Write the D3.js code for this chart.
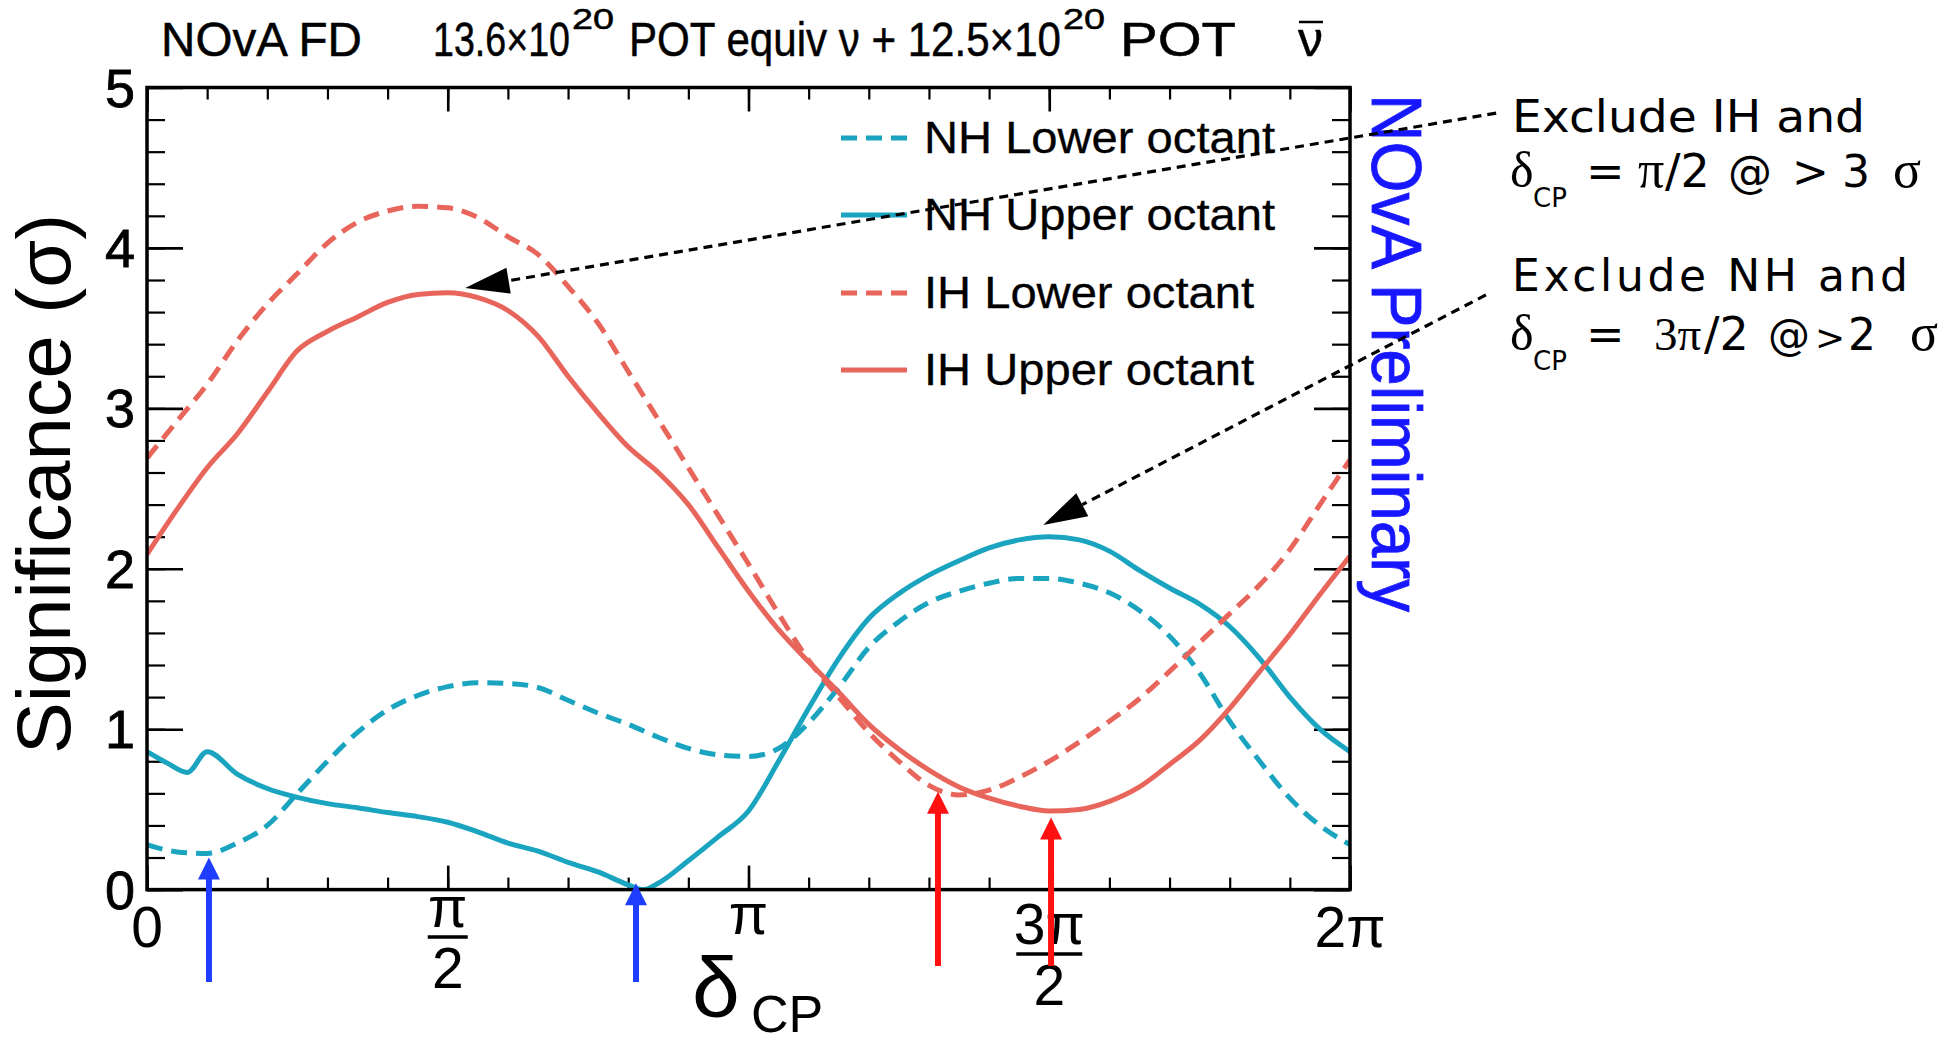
<!DOCTYPE html>
<html>
<head>
<meta charset="utf-8">
<script src="https://cdn.jsdelivr.net/npm/d3@7"></script>
<style>
  body { margin: 0; background: #fff; }
  svg { display: block; font-family: "Liberation Sans", Arial, sans-serif; }
</style>
</head>
<body>
<script>
// delta_CP sample points (units of pi)
const deltaGrid = [0, 0.05, 0.1, 0.15, 0.2, 0.25, 0.3, 0.35, 0.4, 0.45, 0.5, 0.55, 0.6, 0.65, 0.7, 0.75, 0.8, 0.85, 0.9, 0.95,
  1, 1.05, 1.1, 1.15, 1.2, 1.25, 1.3, 1.35, 1.4, 1.45, 1.5, 1.55, 1.6, 1.65, 1.7, 1.75, 1.8, 1.85, 1.9, 1.95, 2];

// significance (sigma) per curve
const nhLowerSig = [0.28, 0.235, 0.225, 0.29, 0.40, 0.60, 0.80, 0.98, 1.12, 1.21, 1.265, 1.29, 1.285, 1.26, 1.18, 1.10, 1.03, 0.95, 0.88, 0.84,
  0.83, 0.88, 1.04, 1.26, 1.51, 1.67, 1.79, 1.86, 1.91, 1.94, 1.94, 1.91, 1.85, 1.74, 1.58, 1.35, 1.05, 0.80, 0.57, 0.40, 0.28];

const nhUpperX = [0, 0.033, 0.067, 0.1, 0.15, 0.2, 0.25, 0.3, 0.35, 0.4, 0.45, 0.5, 0.55, 0.6, 0.65, 0.7, 0.75, 0.8, 0.825,
  0.85, 0.9, 0.95, 1, 1.05, 1.1, 1.15, 1.2, 1.25, 1.3, 1.35, 1.4, 1.45, 1.5, 1.55, 1.6, 1.65, 1.7, 1.75, 1.8, 1.85, 1.9, 1.95, 2];
const nhUpperSig = [0.86, 0.79, 0.73, 0.86, 0.72, 0.63, 0.575, 0.536, 0.51, 0.48, 0.455, 0.42, 0.36, 0.29, 0.24, 0.17, 0.11, 0.03, 0.0,
  0.04, 0.18, 0.33, 0.49, 0.80, 1.13, 1.44, 1.69, 1.845, 1.96, 2.05, 2.13, 2.18, 2.20, 2.18, 2.11, 1.99, 1.88, 1.78, 1.64, 1.44, 1.20, 1.00, 0.86];

const ihLowerSig = [2.69, 2.92, 3.15, 3.42, 3.65, 3.84, 4.03, 4.16, 4.23, 4.26, 4.25, 4.19, 4.07, 3.96, 3.76, 3.53, 3.23, 2.93, 2.63, 2.33,
  2.03, 1.72, 1.43, 1.20, 0.98, 0.80, 0.65, 0.59, 0.62, 0.70, 0.80, 0.92, 1.05, 1.19, 1.36, 1.54, 1.72, 1.90, 2.12, 2.40, 2.68];

const ihUpperSig = [2.09, 2.37, 2.63, 2.84, 3.10, 3.36, 3.48, 3.57, 3.66, 3.71, 3.72, 3.69, 3.61, 3.45, 3.20, 2.97, 2.76, 2.60, 2.40, 2.13,
  1.86, 1.62, 1.42, 1.23, 1.03, 0.875, 0.745, 0.64, 0.57, 0.52, 0.49, 0.50, 0.55, 0.64, 0.78, 0.93, 1.13, 1.36, 1.59, 1.84, 2.08];

const legendNames = ["NH Lower octant", "NH Upper octant", "IH Lower octant", "IH Upper octant"];

// axis ticks
const yTickValues = [0, 1, 2, 3, 4, 5];
const xTickValues = [0, 0.5, 1, 1.5, 2];
const xTickText = ["0", "π/2", "π", "3π/2", "2π"];

// coloured marker arrows: position (pi), tip and tail (sigma)
const blueArrowX = [0.103, 0.813];
const blueArrowTip = [0.20, 0.04];
const redArrowX = [1.315, 1.503];
const redArrowTip = [0.61, 0.45];
const blueArrowTail = -0.576;
const redArrowTail = -0.476;

// dotted callout arrows: [start x, start sigma, tip x, tip sigma]
const callouts = [
  [2.243, 4.84, 0.529, 3.75],
  [2.226, 3.707, 1.490, 2.273]
];

const TEAL = "#1aa4bf";
const SALMON = "#e8655b";

// Layout.
const W = 1959, H = 1045;
const plot = { left: 147, right: 1350, top: 87.5, bottom: 889.6 };

const svg = d3.select("body").append("svg").attr("width", W).attr("height", H);

const x = d3.scaleLinear().domain([0, 2]).range([plot.left, plot.right]);
const y = d3.scaleLinear().domain([0, 5]).range([plot.bottom, plot.top]);

// Ticks on all four sides (ROOT style, pointing inward).
function tickAxis(axis, transform, width) {
  svg.append("g")
    .attr("transform", transform)
    .call(axis.tickFormat(""))
    .call((g) => g.select(".domain").remove())
    .call((g) => g.selectAll("line").attr("stroke", "#000").attr("stroke-width", width));
}
const xMinor = d3.range(0, 2.0001, 0.1);
const yMinor = d3.range(0, 5.0001, 0.2);
tickAxis(d3.axisBottom(x).tickValues(xTickValues).tickSize(-24), `translate(0,${plot.bottom})`, 2.6);
tickAxis(d3.axisBottom(x).tickValues(xMinor).tickSize(-12), `translate(0,${plot.bottom})`, 2.2);
tickAxis(d3.axisTop(x).tickValues(xTickValues).tickSize(-24), `translate(0,${plot.top})`, 2.6);
tickAxis(d3.axisTop(x).tickValues(xMinor).tickSize(-12), `translate(0,${plot.top})`, 2.2);
tickAxis(d3.axisLeft(y).tickValues(yTickValues).tickSize(-36), `translate(${plot.left},0)`, 2.6);
tickAxis(d3.axisLeft(y).tickValues(yMinor).tickSize(-18), `translate(${plot.left},0)`, 2.2);
tickAxis(d3.axisRight(y).tickValues(yTickValues).tickSize(-36), `translate(${plot.right},0)`, 2.6);
tickAxis(d3.axisRight(y).tickValues(yMinor).tickSize(-18), `translate(${plot.right},0)`, 2.2);

// Curves.
svg.append("defs").append("clipPath").attr("id", "plotclip")
  .append("rect")
  .attr("x", plot.left).attr("y", plot.top)
  .attr("width", plot.right - plot.left).attr("height", plot.bottom - plot.top);

const series = [
  { name: legendNames[0], xs: deltaGrid, ys: nhLowerSig, color: TEAL, dash: "16,9" },
  { name: legendNames[1], xs: nhUpperX, ys: nhUpperSig, color: TEAL, dash: null },
  { name: legendNames[2], xs: deltaGrid, ys: ihLowerSig, color: SALMON, dash: "16,9" },
  { name: legendNames[3], xs: deltaGrid, ys: ihUpperSig, color: SALMON, dash: null }
];

const line = d3.line()
  .x((d) => x(d[0]))
  .y((d) => y(d[1]))
  .curve(d3.curveMonotoneX);

svg.append("g").attr("clip-path", "url(#plotclip)")
  .selectAll("path")
  .data(series)
  .enter()
  .append("path")
  .attr("d", (s) => line(s.xs.map((v, i) => [v, s.ys[i]])))
  .attr("fill", "none")
  .attr("stroke", (s) => s.color)
  .attr("stroke-width", 5)
  .attr("stroke-linejoin", "round")
  .attr("stroke-dasharray", (s) => s.dash);

// Frame.
svg.append("rect")
  .attr("x", plot.left).attr("y", plot.top)
  .attr("width", plot.right - plot.left).attr("height", plot.bottom - plot.top)
  .attr("fill", "none").attr("stroke", "#000").attr("stroke-width", 3.5);

// Y tick labels.
svg.append("g").attr("stroke", "#000").attr("stroke-width", 0.8)
  .selectAll("text")
  .data(yTickValues)
  .enter()
  .append("text")
  .attr("x", 135)
  .attr("y", (d) => y(d) + 19)
  .attr("text-anchor", "end")
  .attr("font-size", 54)
  .text((d) => d);

// X tick labels (fractions drawn stacked).
const xl = svg.append("g").attr("font-size", 57).attr("text-anchor", "middle");
xTickValues.forEach((v, i) => {
  const t = xTickText[i];
  const cx = x(v);
  if (t.includes("/")) {
    const [num, den] = t.split("/");
    const low = num.length > 1 ? 17 : 0;
    const barHalf = num.length > 1 ? 33 : 20;
    xl.append("text").attr("x", cx).attr("y", 927 + low).text(num);
    xl.append("line")
      .attr("x1", cx - barHalf).attr("x2", cx + barHalf)
      .attr("y1", 937 + low).attr("y2", 937 + low)
      .attr("stroke", "#000").attr("stroke-width", 3.5);
    xl.append("text").attr("x", cx).attr("y", 988 + low).text(den);
  } else {
    xl.append("text").attr("x", cx).attr("y", t === "π" ? 934 : 947).text(t);
  }
});

// Axis titles.
const xt = svg.append("text").attr("x", 692).attr("y", 1017);
xt.append("tspan").attr("font-size", 86).text("δ");
xt.append("tspan").attr("font-size", 52).attr("x", 751).attr("y", 1032).text("CP");

svg.append("text")
  .attr("transform", "translate(70,484) rotate(-90)")
  .attr("text-anchor", "middle")
  .attr("font-size", 76)
  .attr("textLength", 540)
  .attr("lengthAdjust", "spacingAndGlyphs")
  .text("Significance (σ)");

// Title: one text element, pieces condensed to the original widths.
const titlePieces = [
  { t: "NOvA FD", x: 161, w: 201, y: 56, fs: 48 },
  { t: "13.6×10", x: 433, w: 137, y: 56, fs: 48 },
  { t: "20", x: 572, w: 42, y: 29, fs: 30 },
  { t: "POT equiv ν + 12.5×10", x: 629, w: 432, y: 56, fs: 48 },
  { t: "20", x: 1063, w: 42, y: 29, fs: 30 },
  { t: "POT", x: 1120, w: 116, y: 56, fs: 48 },
  { t: "ν", x: 1298, w: 25, y: 56, fs: 48 }
];
const title = svg.append("text").attr("stroke", "#000").attr("stroke-width", 0.5);
titlePieces.forEach((d) => {
  title.append("tspan")
    .attr("x", d.x).attr("y", d.y)
    .attr("font-size", d.fs)
    .attr("textLength", d.w)
    .attr("lengthAdjust", "spacingAndGlyphs")
    .text(d.t);
});
// bar over the anti-neutrino
svg.append("line")
  .attr("x1", 1299).attr("x2", 1323).attr("y1", 22).attr("y2", 22)
  .attr("stroke", "#000").attr("stroke-width", 2.5);

// NOvA Preliminary.
svg.append("text")
  .attr("transform", "translate(1372,94) rotate(90)")
  .attr("font-size", 70)
  .attr("fill", "#1717ff")
  .attr("stroke", "#1717ff").attr("stroke-width", 0.8)
  .attr("textLength", 518)
  .attr("lengthAdjust", "spacingAndGlyphs")
  .text("NOvA Preliminary");

// Legend.
const legendRowY = [138, 215, 293, 370];
const legendW = [351, 351, 330, 330];
const lg = svg.append("g");
series.forEach((s, i) => {
  lg.append("line")
    .attr("x1", 841).attr("x2", 907)
    .attr("y1", legendRowY[i]).attr("y2", legendRowY[i])
    .attr("stroke", s.color).attr("stroke-width", 5)
    .attr("stroke-dasharray", s.dash);
  lg.append("text")
    .attr("x", 924).attr("y", legendRowY[i] + 15)
    .attr("font-size", 44)
    .attr("stroke", "#000").attr("stroke-width", 0.3)
    .attr("textLength", legendW[i])
    .attr("lengthAdjust", "spacingAndGlyphs")
    .text(s.name);
});

// Coloured marker arrows.
function markerArrow(xv, tip, tail, color) {
  const px = x(xv), ty = y(tip), by = y(tail);
  const head = 22;
  svg.append("line")
    .attr("x1", px).attr("x2", px)
    .attr("y1", by).attr("y2", ty + head - 2)
    .attr("stroke", color).attr("stroke-width", 6);
  svg.append("path")
    .attr("d", `M${px},${ty} L${px - 11},${ty + head} L${px + 11},${ty + head} Z`)
    .attr("fill", color);
}
blueArrowX.forEach((v, i) => markerArrow(v, blueArrowTip[i], blueArrowTail, "#1f3dff"));
redArrowX.forEach((v, i) => markerArrow(v, redArrowTip[i], redArrowTail, "#ff1111"));

// Dotted callout arrows.
callouts.forEach((c) => {
  const x0 = x(c[0]), y0 = y(c[1]), x1 = x(c[2]), y1 = y(c[3]);
  const dx = x1 - x0, dy = y1 - y0, len = Math.hypot(dx, dy);
  const ux = dx / len, uy = dy / len;
  const hl = 44, hw = 13;
  const bx = x1 - ux * hl, by = y1 - uy * hl;
  svg.append("line")
    .attr("x1", x0).attr("y1", y0).attr("x2", bx).attr("y2", by)
    .attr("stroke", "#000").attr("stroke-width", 3.2)
    .attr("stroke-dasharray", "9,6");
  svg.append("path")
    .attr("d", `M${x1},${y1} L${bx - uy * hw},${by + ux * hw} L${bx + uy * hw},${by - ux * hw} Z`)
    .attr("fill", "#000");
});

// Annotation text on the right.
const SANS = "'DejaVu Sans', sans-serif";
const SERIF = "'Liberation Serif', 'DejaVu Serif', serif";
const ann = svg.append("g").attr("fill", "#000");
ann.append("text").attr("x", 1512).attr("y", 132).attr("font-family", SANS).attr("font-size", 44)
  .attr("textLength", 353).attr("lengthAdjust", "spacingAndGlyphs").text("Exclude IH and");
ann.append("text").attr("x", 1512).attr("y", 291).attr("font-family", SANS).attr("font-size", 44)
  .attr("textLength", 396).attr("lengthAdjust", "spacing").text("Exclude NH and");

const annPieces = [
  // line 2
  { t: "δ", x: 1510, y: 187, f: SERIF, fs: 50 },
  { t: "CP", x: 1533, y: 207, f: SANS, fs: 26 },
  { t: "=", x: 1586, y: 187, f: SANS, fs: 46 },
  { t: "π", x: 1638, y: 187, f: SERIF, fs: 52 },
  { t: "/2", x: 1665, y: 187, f: SANS, fs: 46 },
  { t: "@", x: 1728, y: 187, f: SANS, fs: 44 },
  { t: ">", x: 1792, y: 187, f: SANS, fs: 44 },
  { t: "3", x: 1842, y: 187, f: SANS, fs: 44 },
  { t: "σ", x: 1893, y: 187, f: SERIF, fs: 52 },
  // line 4
  { t: "δ", x: 1510, y: 350, f: SERIF, fs: 50 },
  { t: "CP", x: 1533, y: 370, f: SANS, fs: 26 },
  { t: "=", x: 1586, y: 350, f: SANS, fs: 46 },
  { t: "3π", x: 1654, y: 350, f: SERIF, fs: 47 },
  { t: "/2", x: 1704, y: 350, f: SANS, fs: 46 },
  { t: "@", x: 1768, y: 350, f: SANS, fs: 42 },
  { t: ">", x: 1815, y: 350, f: SANS, fs: 36 },
  { t: "2", x: 1848, y: 350, f: SANS, fs: 44 },
  { t: "σ", x: 1910, y: 350, f: SERIF, fs: 52 }
];
ann.selectAll("text.piece")
  .data(annPieces)
  .enter()
  .append("text")
  .attr("class", "piece")
  .attr("x", (d) => d.x).attr("y", (d) => d.y)
  .attr("font-family", (d) => d.f)
  .attr("font-size", (d) => d.fs)
  .text((d) => d.t);
</script>
</body>
</html>
